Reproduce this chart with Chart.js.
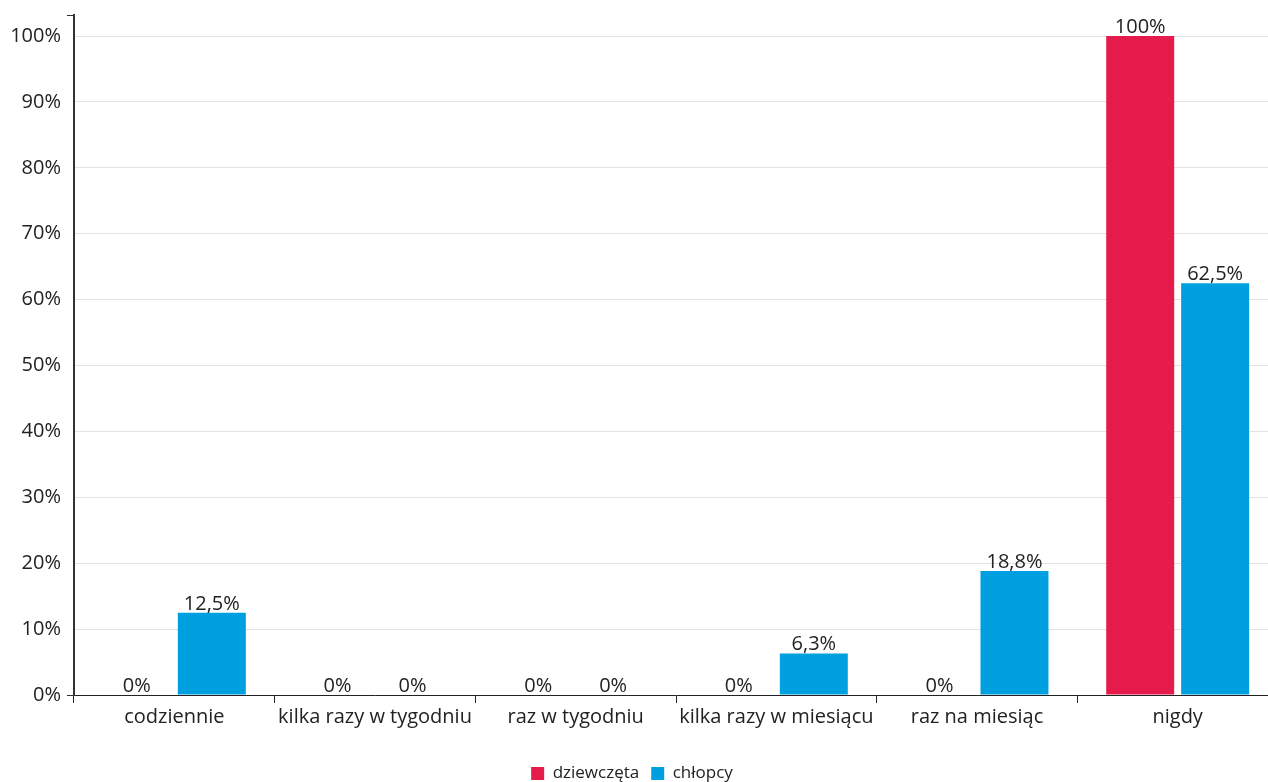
<!DOCTYPE html>
<html>
<head>
<meta charset="utf-8">
<script src="https://cdn.jsdelivr.net/npm/chart.js"></script>
<style>
  html, body { margin: 0; padding: 0; background: #fff; overflow: hidden; }
  #wrap { width: 1280px; height: 782px; }
</style>
</head>
<body>
<div id="wrap"><canvas id="c" width="1280" height="782"></canvas></div>
<script>
// categories / series
var categories = ['codziennie', 'kilka razy w tygodniu', 'raz w tygodniu', 'kilka razy w miesiącu', 'raz na miesiąc', 'nigdy'];
var girls = [0, 0, 0, 0, 0, 100];
var boys  = [12.5, 0, 0, 6.3, 18.8, 62.5];
var yTicks = [0, 10, 20, 30, 40, 50, 60, 70, 80, 90, 100];
var yMax = 103.2;

var FONT = "'Open Sans', 'Noto Sans', sans-serif";
var TEXT = '#222';

function pct(v) { return String(v).replace('.', ',') + '%'; }

// value labels above bars
var valueLabels = {
  id: 'valueLabels',
  afterLayout: function (chart) {
    // nudge legend a bit to the left, like the original
    if (chart.legend) { chart.legend.left -= 7; chart.legend.right -= 7; }
  },
  afterDatasetsDraw: function (chart) {
    var ctx = chart.ctx;
    ctx.save();
    ctx.font = '20px ' + FONT;
    ctx.fillStyle = TEXT;
    ctx.textAlign = 'center';
    ctx.textBaseline = 'alphabetic';
    chart.data.datasets.forEach(function (ds, i) {
      chart.getDatasetMeta(i).data.forEach(function (el, j) {
        ctx.fillText(pct(ds.data[j]), el.x, el.y - 3);
      });
    });
    ctx.restore();
  }
};

new Chart(document.getElementById('c'), {
  type: 'bar',
  data: {
    labels: categories,
    datasets: [
      { label: 'dziewczęta', data: girls, backgroundColor: '#e51b4c' },
      { label: 'chłopcy', data: boys, backgroundColor: '#009fe0' }
    ]
  },
  options: {
    responsive: false,
    animation: false,
    devicePixelRatio: 1,
    layout: { padding: { top: 15, right: 2, left: 0, bottom: -10 } },
    datasets: { bar: { categoryPercentage: 0.747, barPercentage: 0.907 } },
    scales: {
      x: {
        grid: { offset: true, drawOnChartArea: false, tickLength: 8, tickColor: '#222' },
        border: { color: '#222', width: 1 },
        ticks: { color: TEXT, font: { family: FONT, size: 20 }, padding: 2, maxRotation: 0, autoSkip: false },
        afterFit: function (s) { s.height = 58; }
      },
      y: {
        min: 0,
        max: yMax,
        afterBuildTicks: function (s) {
          s.ticks = yTicks.concat([yMax]).map(function (v) { return { value: v }; });
        },
        grid: {
          tickLength: 7,
          color: function (c) { return c.tick && c.tick.value === yMax ? 'rgba(0,0,0,0)' : '#e2e2e2'; },
          tickColor: function (c) { return c.tick && (c.tick.value === yMax || c.tick.value === 0) ? '#333' : 'rgba(0,0,0,0)'; }
        },
        border: { color: '#333', width: 2 },
        ticks: {
          color: TEXT,
          font: function (c) {
            return { family: FONT, size: c.tick && c.tick.value === yMax ? 1 : 20 };
          },
          padding: 6,
          callback: function (v) { return v === yMax ? '' : v + '%'; }
        },
        afterFit: function (s) { s.width = 74; }
      }
    },
    plugins: {
      legend: {
        position: 'bottom',
        labels: { color: TEXT, font: { family: FONT, size: 17 }, boxWidth: 13, boxHeight: 13, padding: 12 }
      },
      tooltip: { enabled: false }
    }
  },
  plugins: [valueLabels]
});
</script>
</body>
</html>
